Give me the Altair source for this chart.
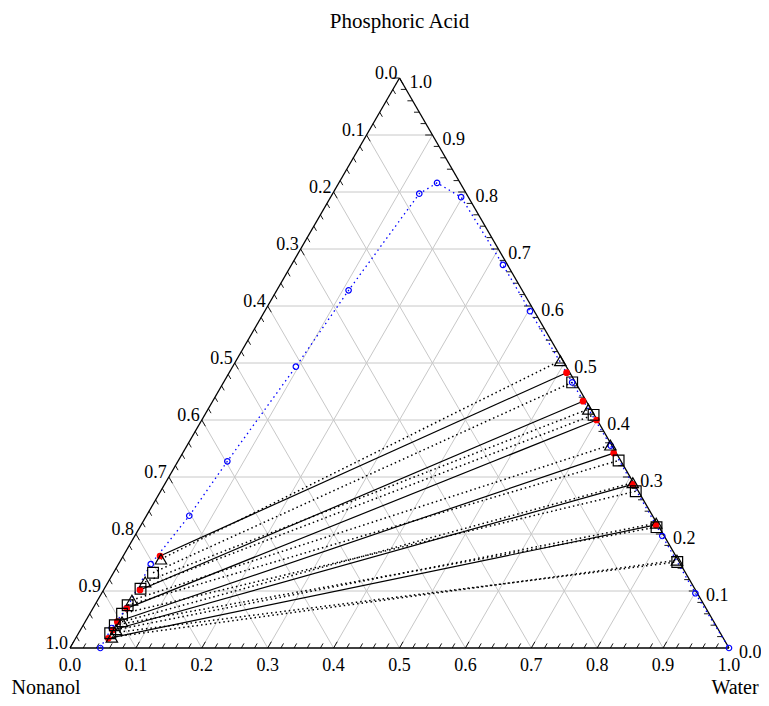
import altair as alt
import pandas as pd

SQ = 0.8660254

# ---- data (mass fractions: water, phosphoric acid; nonanol = 1 - water - acid)
bin_water = [0.046, 0.0457, 0.051, 0.049, 0.065, 0.075, 0.096, 0.109, 0.1315, 0.149, 0.198,
             0.321, 0.4025, 0.529, 0.643, 0.8005, 0.901, 1.0]
bin_acid = [0.0, 0.0351, 0.070, 0.147, 0.232, 0.3275, 0.4935, 0.6275, 0.797, 0.816, 0.791,
            0.672, 0.591, 0.466, 0.355, 0.1965, 0.096, 0.0]

red_left_water = [0.0559, 0.0553, 0.0512, 0.0487, 0.0490, 0.0496]
red_left_acid = [0.1614, 0.1018, 0.0696, 0.0461, 0.0316, 0.0170]
red_right_water = [0.512, 0.562, 0.599, 0.654, 0.710, 0.781]
red_right_acid = [0.483, 0.433, 0.400, 0.342, 0.287, 0.216]

tri_left_water = [0.060, 0.056, 0.052, 0.056, 0.054, 0.054]
tri_left_acid = [0.156, 0.116, 0.084, 0.046, 0.032, 0.019]
tri_right_water = [0.492, 0.577, 0.642, 0.709, 0.780, 0.844]
tri_right_acid = [0.504, 0.419, 0.356, 0.290, 0.219, 0.154]

sq_left_water = [0.060, 0.055, 0.050, 0.049, 0.048, 0.048]
sq_left_acid = [0.132, 0.104, 0.075, 0.060, 0.040, 0.026]
sq_right_water = [0.529, 0.590, 0.668, 0.721, 0.784, 0.846]
sq_right_acid = [0.466, 0.409, 0.329, 0.275, 0.212, 0.151]

major_ticks = [0.0, 0.1, 0.2, 0.3, 0.4, 0.5, 0.6, 0.7, 0.8, 0.9, 1.0]
tick_labels = ["0.0", "0.1", "0.2", "0.3", "0.4", "0.5", "0.6", "0.7", "0.8", "0.9", "1.0"]
minor_ticks = [i / 50 for i in range(51)]
components = ["Phosphoric Acid", "Nonanol", "Water"]

FONT = "Liberation Serif"

xs = alt.Scale(domain=[0, 1], nice=False, zero=False)
ys = alt.Scale(domain=[0, SQ], nice=False, zero=False)


def seg_df(rows):
    return pd.DataFrame(rows, columns=["w1", "a1", "w2", "a2"])


def rules(df, color, width=1.0, dash=None):
    kw = dict(color=color, strokeWidth=width)
    if dash:
        kw["strokeDash"] = dash
    return (
        alt.Chart(df)
        .transform_calculate(
            x="datum.w1 + datum.a1 / 2", y=f"datum.a1 * {SQ}",
            x2="datum.w2 + datum.a2 / 2", y2=f"datum.a2 * {SQ}",
        )
        .mark_rule(**kw)
        .encode(
            x=alt.X("x:Q", scale=xs, axis=None),
            y=alt.Y("y:Q", scale=ys, axis=None),
            x2="x2:Q",
            y2="y2:Q",
        )
    )


def points(water, acid, **mark):
    df = pd.DataFrame({"water": water, "acid": acid})
    return (
        alt.Chart(df)
        .transform_calculate(x="datum.water + datum.acid / 2", y=f"datum.acid * {SQ}")
        .mark_point(**mark)
        .encode(x=alt.X("x:Q", scale=xs, axis=None), y=alt.Y("y:Q", scale=ys, axis=None))
    )


# grid lines
grid_rows = []
for v in major_ticks[1:-1]:
    grid_rows.append([v, 0, v, 1 - v])          # constant water
    grid_rows.append([0, v, 1 - v, v])          # constant acid
    grid_rows.append([1 - v, 0, 0, 1 - v])      # constant nonanol
grid = rules(seg_df(grid_rows), "#c8c8c8", 1.0)

frame = rules(seg_df([[0, 0, 1, 0], [1, 0, 0, 1], [0, 1, 0, 0]]), "black", 1.3)

tick_rows = []
for v in minor_ticks:
    L = 0.011 if abs(v * 10 - round(v * 10)) < 1e-9 else 0.008
    if v < 1 - 1e-9:
        tick_rows.append([v, 0, v, L])                  # bottom (water)
        tick_rows.append([0, 1 - v, L, 1 - v - L])      # left (nonanol)
    if v > 1e-9:
        tick_rows.append([1 - v, v, 1 - v - L, v])      # right (acid)
ticks = rules(seg_df(tick_rows), "black", 0.9)

solid = rules(seg_df([[a, b, c, d] for a, b, c, d in
                      zip(red_left_water, red_left_acid, red_right_water, red_right_acid)]),
              "black", 1.2)
dot_rows = [[a, b, c, d] for a, b, c, d in
            zip(tri_left_water, tri_left_acid, tri_right_water, tri_right_acid)]
dot_rows += [[a, b, c, d] for a, b, c, d in
             zip(sq_left_water, sq_left_acid, sq_right_water, sq_right_acid)]
dotted = rules(seg_df(dot_rows), "black", 1.5, [1.5, 3])

bin_df = pd.DataFrame({"water": bin_water, "acid": bin_acid, "i": range(len(bin_water))})
bin_line = (
    alt.Chart(bin_df)
    .transform_calculate(x="datum.water + datum.acid / 2", y=f"datum.acid * {SQ}")
    .mark_line(color="blue", strokeWidth=1.3, strokeDash=[1.5, 3.5])
    .encode(x=alt.X("x:Q", scale=xs, axis=None), y=alt.Y("y:Q", scale=ys, axis=None),
            order="i:Q")
)
bin_pts = points(bin_water, bin_acid, shape="circle", size=30, filled=False,
                 color="blue", strokeWidth=1.2, opacity=1)

red = points(red_left_water + red_right_water, red_left_acid + red_right_acid,
             shape="circle", size=45, filled=True, color="red", opacity=1)
tri = points(tri_left_water + tri_right_water, tri_left_acid + tri_right_acid,
             shape="triangle-up", size=130, filled=False, color="black",
             strokeWidth=1.2, opacity=1)
sq = points(sq_left_water + sq_right_water, sq_left_acid + sq_right_acid,
            shape="square", size=115, filled=False, color="black",
            strokeWidth=1.2, opacity=1)

# labels
bottom_df = pd.DataFrame({"water": major_ticks, "acid": [0.0] * 11, "label": tick_labels})
left_df = pd.DataFrame({"water": [0.0] * 11, "acid": [1 - v for v in major_ticks],
                        "label": tick_labels})
right_df = pd.DataFrame({"water": [1 - v for v in major_ticks], "acid": major_ticks,
                         "label": tick_labels})


def texts(df, field="label", size=18, **mark):
    return (
        alt.Chart(df)
        .transform_calculate(x="datum.water + datum.acid / 2", y=f"datum.acid * {SQ}")
        .mark_text(font=FONT, fontSize=size, color="black", **mark)
        .encode(x=alt.X("x:Q", scale=xs, axis=None), y=alt.Y("y:Q", scale=ys, axis=None),
                text=f"{field}:N")
    )


bottom_lbl = texts(bottom_df, align="center", baseline="middle", dy=18)
left_lbl = texts(left_df, align="right", baseline="middle", dx=-2, dy=-4)
right_lbl = texts(right_df, align="left", baseline="middle", dx=10, dy=5)

title_df = pd.DataFrame({"water": [0.0, 0.0, 1.0], "acid": [1.0, 0.0, 0.0],
                         "name": components})
t_top = texts(title_df.iloc[[0]], field="name", size=21, align="center",
              baseline="middle", dy=-56)
t_left = texts(title_df.iloc[[1]], field="name", size=20, align="center",
               baseline="alphabetic", dx=-24, dy=46)
t_right = texts(title_df.iloc[[2]], field="name", size=20, align="center",
                baseline="alphabetic", dx=6, dy=46)

chart = (
    alt.layer(grid, frame, ticks, solid, dotted, bin_line, bin_pts, red, tri, sq,
              bottom_lbl, left_lbl, right_lbl, t_top, t_left, t_right)
    .properties(width=659, height=570, autosize="none",
                padding={"left": 62, "top": 70, "right": 32, "bottom": 50})
    .configure_view(stroke=None)
)

chart.save("out.html", embed_options={"renderer": "svg", "actions": False})
